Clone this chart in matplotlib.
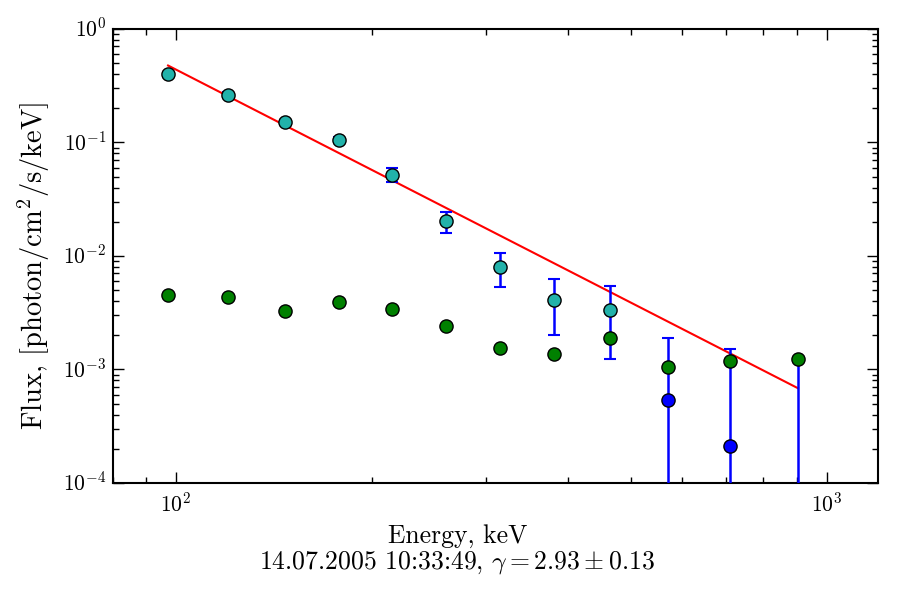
import matplotlib
matplotlib.use('Agg')
import numpy as np
import matplotlib.pyplot as plt

plt.style.use('classic')
plt.rcParams['font.family'] = 'serif'
plt.rcParams['font.serif'] = ['cmr10', 'DejaVu Serif']
plt.rcParams['mathtext.fontset'] = 'cm'
plt.rcParams['axes.formatter.use_mathtext'] = True
plt.rcParams['axes.unicode_minus'] = False

# energies of the spectral bins, keV
energy = [97.2, 120.2, 146.9, 178, 215, 260, 314.5, 381, 464, 571, 711, 904]

# source flux (cyan = significant, blue = weak) with symmetric errors
flux = [0.40, 0.26, 0.150, 0.105, 0.052, 0.0203, 0.0080, 0.0041, 0.00334, 5.4e-4, 2.13e-4, 1e-6]
flux_err = [0.02, 0.015, 0.008, 0.007, 0.0075, 0.0043, 0.0027, 0.0021, 0.0021, 0.00134, 0.00131, 0.00120]
significant = [True] * 9 + [False] * 3

# background flux
bkg = [4.53e-3, 4.35e-3, 3.27e-3, 3.94e-3, 3.41e-3, 2.42e-3, 1.56e-3, 1.37e-3, 1.88e-3, 1.05e-3, 1.19e-3, 1.23e-3]

# power-law fit endpoints
fit_energy = [97.2, 904]
fit_flux = [0.475, 6.83e-4]

title = '14.07.2005 10:33:49, $\\gamma = 2.93 \\pm 0.13$'

fig = plt.figure(figsize=(9, 6), dpi=100, facecolor='w')
ax = fig.add_axes([0.1256, 0.195, 0.8500, 0.757])
ax.set_xscale('log', nonpositive='clip')
ax.set_yscale('log', nonpositive='clip')

ax.plot(fit_energy, fit_flux, color='r', lw=1.5, zorder=2)

ax.errorbar(energy, flux, yerr=flux_err, fmt='none', ecolor='b', elinewidth=1.8,
            capsize=4.3, capthick=1.5, zorder=3)

e = np.array(energy)
f = np.array(flux)
sig = np.array(significant)
ax.plot(e[sig], f[sig], 'o', color='#22b2aa', mec='k', ms=9.5, mew=1, zorder=4)
ax.plot(e[~sig], f[~sig], 'o', color='b', mec='k', ms=9.5, mew=1, zorder=4)
ax.plot(energy, bkg, 'o', color='g', mec='k', ms=9.5, mew=1, zorder=5)

ax.set_xlim(80, 1200)
ax.set_ylim(1e-4, 1)

for s in ax.spines.values():
    s.set_linewidth(1.5)
ax.tick_params(which='major', length=8, width=1, direction='in', labelsize=15.5, pad=6)
ax.tick_params(axis='y', which='major', pad=5)
ax.tick_params(which='minor', length=4, width=1, direction='in')

ax.set_xlabel('Energy, keV\n' + title, fontsize=18.5, linespacing=1.1, labelpad=6)
ax.xaxis.label.set_x(0.45)
ax.set_ylabel('Flux, [photon/cm$^2$/s/keV]', fontsize=20.5, labelpad=8)
ax.yaxis.label.set_y(0.478)

fig.savefig('out.png', dpi=100, facecolor='w')
